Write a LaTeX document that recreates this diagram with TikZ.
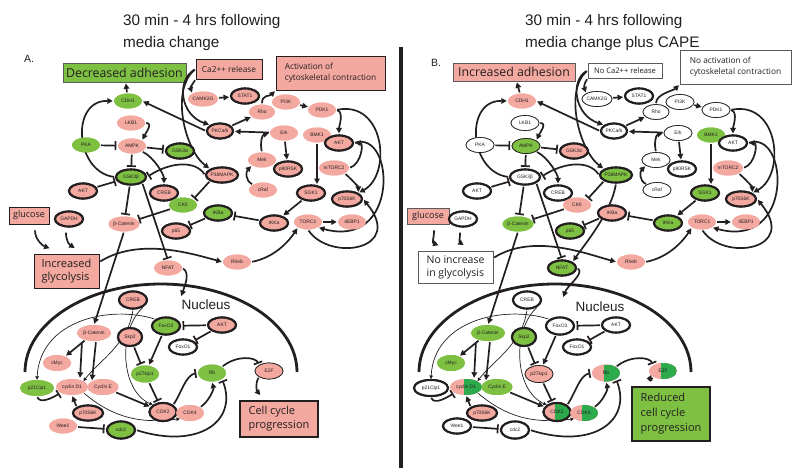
\documentclass[tikz,border=0pt]{standalone}
\usepackage{fontspec}
\setmainfont{Liberation Sans}
\newfontfamily\boxfont{Open Sans}
\usetikzlibrary{arrows.meta,calc,shapes.geometric}
\definecolor{pk}{RGB}{243,168,160}
\definecolor{gn}{RGB}{125,192,66}
\definecolor{dg}{RGB}{45,170,75}
\definecolor{bd}{RGB}{35,31,32}
\definecolor{bx}{RGB}{90,90,90}
\tikzset{
 nd/.style={ellipse, minimum width=28pt, minimum height=15pt, inner sep=0pt, font=\fontsize{4.9}{5.5}\selectfont, text=bd},
 cPK/.style={fill=pk},
 cPKT/.style={fill=pk, draw=bd, line width=2.1pt},
 cPKt/.style={fill=pk, draw=bd, line width=0.7pt},
 cGN/.style={fill=gn},
 cGNT/.style={fill=gn, draw=bd, line width=2.1pt},
 cGNt/.style={fill=gn, draw=bd, line width=0.7pt},
 cWT/.style={fill=white, draw=bd, line width=2.1pt},
 cWt/.style={fill=white, draw=bd, line width=0.7pt},
 cHF/.style={fill=pk, path picture={\fill[dg] ($(path picture bounding box.north)+(-2,0)$) rectangle (path picture bounding box.south east);}},
 cHFT/.style={cHF, draw=bd, line width=2.1pt},
 ar/.style={line width=1.7pt, draw=bd, -{Triangle[length=5.5pt,width=5.5pt]}, shorten >=1pt, shorten <=1pt},
 tar/.style={line width=0.7pt, draw=bd, -{Triangle[length=3.5pt,width=3.5pt]}, shorten <=1pt},
 inh/.style={line width=1.7pt, draw=bd, -{Bar[width=9pt]}, shorten >=1.5pt, shorten <=1pt},
 box/.style={draw=bx, line width=0.8pt, inner sep=2pt, font=\boxfont, align=left, text=bd},
 nuc/.style={line width=2.8pt, draw=bd},
 ttl/.style={font=\fontsize{15.3}{18}\selectfont, anchor=base west, inner sep=0pt, text=bd}
}
\newcommand\panelnodes{%
\node[nd,s-cdh1] (\p cdh1) at (128,101) {CDH1};
\node[nd,s-lkb1] (\p lkb1) at (131,123) {LKB1};
\node[nd,s-pka] (\p pka) at (86,145) {PKA};
\node[nd,s-ampk] (\p ampk) at (132,146) {AMPK};
\node[nd,s-gska] (\p gska) at (180,151) {GSK3α};
\node[nd,s-gskb,minimum width=30pt] (\p gskb) at (131,177) {GSK3β};
\node[nd,s-akt1] (\p akt1) at (83,191) {AKT};
\node[nd,s-creb1] (\p creb1) at (164,193) {CREB};
\node[nd,s-ckii] (\p ckii) at (183,205) {CKII};
\node[nd,s-bcat1,minimum width=31pt] (\p bcat1) at (124,224) {β-Catenin};
\node[nd,s-p65] (\p p65) at (176,231) {p65};
\node[nd,s-nfat] (\p nfat) at (168,268) {NFAT};
\node[nd,s-gapdh] (\p gapdh) at (69,219) {GAPDH};
\node[nd,s-camk,minimum width=30pt] (\p camk) at (203,99) {CAMK2G};
\node[nd,s-stat1] (\p stat1) at (245,96) {STAT1};
\node[nd,s-pkc,minimum width=26pt] (\p pkc) at (220,131) {PKCa/b};
\node[nd,s-rho,minimum width=26pt] (\p rho) at (262,112) {Rho};
\node[nd,s-pi3k] (\p pi3k) at (286,102) {PI3K};
\node[nd,s-pdk1] (\p pdk1) at (322,110) {PDK1};
\node[nd,s-erk] (\p erk) at (284,133) {Erk};
\node[nd,s-bmk1] (\p bmk1) at (317,135) {BMK1};
\node[nd,s-akt2] (\p akt2) at (339,143) {AKT};
\node[nd,s-mek] (\p mek) at (262,160) {Mek};
\node[nd,s-p90] (\p p90) at (288,169) {p90RSK};
\node[nd,s-mtorc2,minimum width=30pt] (\p mtorc2) at (334,168) {mTORC2};
\node[nd,s-p38,minimum width=30pt] (\p p38) at (222,175) {P38MAPK};
\node[nd,s-craf] (\p craf) at (263,190) {cRaf};
\node[nd,s-sgk1] (\p sgk1) at (311,193) {SGK1};
\node[nd,s-p70a,minimum width=30pt] (\p p70a) at (347,199) {p70S6K};
\node[nd,s-ikka] (\p ikka) at (274,223) {IKKa};
\node[nd,s-torc1] (\p torc1) at (308,222) {TORC1};
\node[nd,s-ebp1] (\p ebp1) at (352,222) {4EBP1};
\node[nd,s-ikba] (\p ikba) at (218,213) {IKBa};
\node[nd,s-rheb] (\p rheb) at (237,262) {Rheb};
\node[nd,s-creb2,minimum height=17pt] (\p creb2) at (133,300) {CREB};
\node[nd,s-bcat2,minimum width=34pt,minimum height=16pt] (\p bcat2) at (94,333) {β-Catenin};
\node[nd,s-skp2,minimum width=24pt,minimum height=18pt] (\p skp2) at (130,337) {Skp2};
\node[nd,s-foxo3,minimum height=17pt] (\p foxo3) at (166,326) {FoxO3};
\node[nd,s-foxo1] (\p foxo1) at (183,347) {FoxO1};
\node[nd,s-cmyc,minimum height=16pt] (\p cmyc) at (57,363) {cMyc};
\node[nd,s-p27,minimum height=17pt] (\p p27) at (145,374) {p27kip1};
\node[nd,s-p21,minimum width=34pt,minimum height=16pt] (\p p21) at (37,388) {p21Cip1};
\node[nd,s-cycd1,minimum width=32pt,minimum height=16pt] (\p cycd1) at (72,387) {cyclin D1};
\node[nd,s-cyce,minimum width=31pt,minimum height=16pt] (\p cyce) at (103,387) {Cyclin E};
\node[nd,s-cdk2,minimum width=27pt,minimum height=18pt] (\p cdk2) at (163,412) {CDK2};
\node[nd,s-cdk4,minimum height=16pt] (\p cdk4) at (190,413) {CDK4};
\node[nd,s-p70b,minimum width=30pt] (\p p70b) at (88,413) {p70S6K};
\node[nd,s-wee1] (\p wee1) at (63,426) {Wee1};
\node[nd,s-cdc2,minimum height=17pt] (\p cdc2) at (121,430) {cdc2};
\node[nd,s-akt3] (\p akt3) at (222,325) {AKT};
\node[nd,s-rb,minimum height=17pt] (\p rb) at (212,373) {Rb};
\node[nd,s-e2f,minimum height=16pt] (\p e2f) at (269,371) {E2F};
}
\newcommand\paneledges{%
\draw[nuc] (25,372) arc[start angle=180, end angle=360, x radius=136, y radius=88];
\draw[ar] (\p cdh1) -- (\p adh);
\draw[ar] (\p lkb1.east) .. controls +(8,0) and +(4,-8) .. (\p ampk.north east);
\draw[inh] (\p pka) -- (\p ampk);
\draw[inh] (\p ampk) -- (\p gska);
\draw[inh] (\p ampk) -- (\p gskb);
\draw[ar] (\p ampk.south east) .. controls +(12,6) and +(0,-10) .. (\p creb1.north);
\draw[ar] (\p gskb.west) .. controls (75,172) and (70,100) .. (\p cdh1.west);
\draw[inh] (\p akt1) -- (\p gskb);
\draw[inh] (\p p38.west) .. controls (195,160) and (170,162) .. (\p gskb.east);
\draw[ar] (\p pkc.west) -- (\p cdh1.east);
\draw[ar] (\p ca.south west) .. controls +(-4,6) and +(-2,-6) .. (\p camk.north west);
\draw[ar] (\p camk) -- (\p stat1);
\draw[ar] (\p ca.west) .. controls (176,80) and (180,115) .. (\p pkc.north west);
\draw[ar] (\p ca.west) .. controls (170,90) and (185,150) .. (\p p38.north west);
\draw[ar] (\p pkc) -- (\p rho);
\draw[ar] (\p rho.north) .. controls +(0,-10) and +(-6,6) .. (\p act.south west);
\draw[ar] (\p pi3k) -- (\p pdk1);
\draw[ar] (\p pdk1.east) .. controls +(8,2) and +(0,-8) .. (\p akt2.north);
\draw[ar] (\p erk) -- (\p pkc);
\draw[ar] (\p mek.north) .. controls +(-2,-8) and +(-8,2) .. (\p erk.west);
\draw[ar] (\p erk) -- (\p p90);
\draw[ar] (\p craf.north west) .. controls +(-8,-4) and +(-6,6) .. (\p mek.south west);
\draw[ar, shorten >=9pt] (\p bmk1) -- (\p bmk1 |- \p sgk1);
\draw[ar] (\p mtorc2.east) .. controls +(12,-4) and +(10,0) .. (\p akt2.east);
\draw[ar] (\p mtorc2.south east) .. controls +(6,5) and +(0,-6) .. (\p p70a.north east);
\draw[ar] (\p pdk1.east) .. controls (385,100) and (392,175) .. (\p p70a.north east);
\draw[ar] (\p akt2.east) .. controls (395,130) and (400,250) .. (\p torc1.south east);
\draw[ar] (\p torc1.south) .. controls (330,262) and (405,250) .. (\p p70a.east);
\draw[ar] (\p sgk1) -- (\p ikka);
\draw[inh] (\p ikka) -- (\p ikba);
\draw[inh] (\p ikba) -- (\p p65);
\draw[ar] (\p torc1) -- (\p ebp1);
\draw[ar] (\p rheb.east) .. controls +(25,-5) and +(-8,12) .. (\p torc1.south west);
\draw[ar] ($(\p gly.east)+(0,-9)$) .. controls +(40,-25) and +(-30,-8) .. (\p rheb.west);
\draw[inh] (\p gskb) -- (\p bcat1);
\draw[inh] (\p gskb.south east) -- (\p nfat.north);
\draw[inh] (\p ckii) -- (\p bcat1);
\draw[inh] (\p p38.south west) -- (\p ckii.north east);
\draw[ar] ($(\p glu.south)+(6,5)$) .. controls +(0,10) and +(-8,-3) .. ($(\p gly.north)+(-16,-5)$);
\draw[ar] ($(\p gapdh.south)+(-3,4)$) .. controls +(0,10) and +(-6,-4) .. ($(\p gly.north)+(9,-5)$);
\draw[ar] (\p bcat1.south) -- (\p bcat2.north);
\draw[ar] (\p nfat.east) .. controls +(8,5) and +(4,-12) .. (\p nfe);
\draw[tar] (\p creb2.south) .. controls +(-5,35) and +(15,-20) .. (\p cycd1.north east);
\draw[tar] (\p creb2.south east) .. controls (118,330) and (120,390) .. (\p cdk2.north west);
\draw[tar] (\p foxo3.north west) .. controls (110,305) and (40,320) .. (\p p21.north);
\draw[ar] (\p bcat2) -- (\p cmyc);
\draw[ar] ($(\p bcat2.south)+(-12,0)$) -- ($(\p cycd1.north)+(8,0)$);
\draw[ar] ($(\p bcat2.south)+(2,0)$) -- (\p cyce.north west);
\draw[inh] (\p skp2) -- (\p p27);
\draw[ar] (\p foxo3) -- (\p p27);
\draw[inh] (\p akt3) -- (\p foxo3);
\draw[inh] (\p akt3) -- (\p foxo1);
\draw[inh] (\p p27) -- (\p cdk2);
\draw[ar] (\p cyce) -- (\p cdk2);
\draw[tar] (\p cycd1.south east) .. controls +(30,25) and +(-40,5) .. (\p cdk4.south west);
\draw[inh] (\p p21.south) .. controls +(3,8) and +(-8,5) .. (\p cycd1.south west);
\draw[ar] (\p p70b.north west) -- (\p cycd1.south);
\draw[inh] (\p wee1) -- (\p cdc2);
\draw[inh] (\p cdc2.east) .. controls (200,450) and (238,420) .. (\p rb.south east);
\draw[ar] (\p cdk4.north east) .. controls +(8,-5) and +(2,8) .. (\p rb.south);
\draw[inh] (\p cdk2.north east) .. controls +(8,-12) and +(-12,2) .. (\p rb.west);
\draw[inh] (\p rb.north east) .. controls +(15,-12) and +(-3,-8) .. (\p e2f.north west);
\draw[ar] (\p e2f.south west) .. controls +(-4,8) and +(-4,-5) .. ($(\p ccp.north west)+(22,-4)$);
}
\begin{document}
\begin{tikzpicture}[x=1pt,y=-1pt]
\useasboundingbox[fill=white] (0,0) rectangle (800,475);
% titles
\node[ttl] (ta1) at (123,25) {30 min - 4 hrs following};
\node[ttl] (ta2) at (123,47) {media change};
\node[ttl] (tb1) at (525,25) {30 min - 4 hrs following};
\node[ttl] (tb2) at (525,47) {media change plus CAPE};
\node[font=\fontsize{10.5}{12}\selectfont, text=bd] (la) at (29,59) {A.};
\node[font=\fontsize{10.5}{12}\selectfont, text=bd] (lb) at (436,63) {B.};
\draw[line width=3.5pt, bd] (401,47) -- (401,468);
% ---------- panel A ----------
\begin{scope}
\def\p{a-}
\tikzset{s-cdh1/.style=cGN, s-lkb1/.style=cPK, s-pka/.style=cGN, s-ampk/.style=cPK, s-gska/.style=cGNT, s-gskb/.style=cGNT, s-akt1/.style=cPKT, s-creb1/.style=cPKT, s-ckii/.style=cGN, s-bcat1/.style=cPK, s-p65/.style=cPKT, s-nfat/.style=cPK, s-gapdh/.style=cPKT, s-camk/.style=cPK, s-stat1/.style=cPKT, s-pkc/.style=cPKT, s-rho/.style=cPK, s-pi3k/.style=cPK, s-pdk1/.style=cPK, s-erk/.style=cPK, s-bmk1/.style=cPK, s-akt2/.style=cPKT, s-mek/.style=cPK, s-p90/.style=cPKT, s-mtorc2/.style=cPK, s-p38/.style=cPKT, s-craf/.style=cPK, s-sgk1/.style=cPKT, s-p70a/.style=cPKT, s-ikka/.style=cPKT, s-torc1/.style=cPK, s-ebp1/.style=cPK, s-ikba/.style=cGNT, s-rheb/.style=cPK, s-creb2/.style=cPKT, s-bcat2/.style=cPK, s-skp2/.style=cPKT, s-foxo3/.style=cGNT, s-foxo1/.style=cWT, s-cmyc/.style=cPK, s-p27/.style=cGN, s-p21/.style=cGN, s-cycd1/.style=cPK, s-cyce/.style=cPK, s-cdk2/.style=cPKT, s-cdk4/.style=cPK, s-p70b/.style=cPKT, s-wee1/.style=cPK, s-cdc2/.style=cGNT, s-akt3/.style=cPKT, s-rb/.style=cGN, s-e2f/.style=cPKt}
\node[box, fill=gn, minimum width=123pt, minimum height=19pt, font=\boxfont\fontsize{12.3}{14}\selectfont] (a-adh) at (124.5,72.5) {Decreased adhesion};
\node[box, fill=pk, draw=bd, minimum width=66pt, minimum height=20pt, font=\boxfont\fontsize{8.3}{10}\selectfont] (a-ca) at (229,69) {Ca2++ release};
\node[box, fill=pk, draw=bd, minimum width=109pt, minimum height=34pt, font=\boxfont\fontsize{8.3}{11}\selectfont] (a-act) at (330.5,73) {Activation of\\cytoskeletal contraction};
\node[box, fill=pk, draw=bd, minimum width=40pt, minimum height=17pt, font=\boxfont\fontsize{9}{10}\selectfont] (a-glu) at (29,215.5) {glucose};
\node[box, fill=pk, draw=bd, minimum width=65pt, minimum height=34pt, font=\boxfont\fontsize{11}{13.5}\selectfont] (a-gly) at (66.5,271) {Increased\\glycolysis};
\node[box, fill=pk, draw=bd, line width=2.2pt, minimum width=78pt, minimum height=36pt, font=\boxfont\fontsize{11}{14}\selectfont] (a-ccp) at (279,419) {Cell cycle\\progression};
\coordinate (a-nfe) at (181,297);
\panelnodes
\paneledges
\panelnodes
\node[font=\fontsize{13.5}{15}\selectfont, text=bd] (a-nucl) at (206,305) {Nucleus};
\end{scope}
% ---------- panel B ----------
\begin{scope}
\def\p{b-}
\tikzset{s-cdh1/.style=cPK, s-lkb1/.style=cWt, s-pka/.style=cWt, s-ampk/.style=cGNt, s-gska/.style=cPKT, s-gskb/.style=cWT, s-akt1/.style=cWT, s-creb1/.style=cWT, s-ckii/.style=cPK, s-bcat1/.style=cGN, s-p65/.style=cGNT, s-nfat/.style=cGNT, s-gapdh/.style=cWT, s-camk/.style=cWt, s-stat1/.style=cWT, s-pkc/.style=cWT, s-rho/.style=cWt, s-pi3k/.style=cWt, s-pdk1/.style=cWt, s-erk/.style=cWt, s-bmk1/.style=cGN, s-akt2/.style=cWT, s-mek/.style=cWt, s-p90/.style=cWT, s-mtorc2/.style=cPK, s-p38/.style=cGNT, s-craf/.style=cWt, s-sgk1/.style=cGNT, s-p70a/.style=cPKT, s-ikka/.style=cGNT, s-torc1/.style=cPK, s-ebp1/.style=cPK, s-ikba/.style=cPKT, s-rheb/.style=cPK, s-creb2/.style=cWT, s-bcat2/.style=cGN, s-skp2/.style=cGNT, s-foxo3/.style=cWT, s-foxo1/.style=cWT, s-cmyc/.style=cGN, s-p27/.style=cPKt, s-p21/.style=cWT, s-cycd1/.style=cHF, s-cyce/.style=cGN, s-cdk2/.style=cHFT, s-cdk4/.style=cHF, s-p70b/.style=cPKT, s-wee1/.style=cWT, s-cdc2/.style=cWT, s-akt3/.style=cWT, s-rb/.style=cHF, s-e2f/.style=cHF}
\node[box, fill=pk, minimum width=122pt, minimum height=18pt, font=\boxfont\fontsize{12.3}{14}\selectfont] (b-adh) at (514,72) {Increased adhesion};
\node[box, fill=white, minimum width=74pt, minimum height=15pt, font=\boxfont\fontsize{7.6}{9}\selectfont] (b-ca) at (625,70.5) {No Ca2++ release};
\node[box, fill=white, minimum width=111pt, minimum height=34pt, font=\boxfont\fontsize{8.3}{11}\selectfont] (b-act) at (735.5,67) {No activation of\\cytoskeletal contraction};
\node[box, fill=pk, minimum width=42pt, minimum height=16pt, font=\boxfont\fontsize{9}{10}\selectfont] (b-glu) at (428,216) {glucose};
\node[box, fill=white, minimum width=75pt, minimum height=32pt, font=\boxfont\fontsize{10.5}{13}\selectfont] (b-gly) at (455.5,267) {No increase\\in glycolysis};
\node[box, fill=gn, draw=bd, line width=2.2pt, minimum width=78pt, minimum height=54pt, font=\boxfont\fontsize{11}{15}\selectfont] (b-ccp) at (671,414) {Reduced\\cell cycle\\progression};
\coordinate (b-nfe) at (563,298);
\begin{scope}[xshift=394pt]
\panelnodes
\paneledges
\draw[ar] (b-p38.south) .. controls +(-5,30) and +(10,-15) .. (b-nfat.north east);
\panelnodes
\node[font=\fontsize{13.5}{15}\selectfont, text=bd] (b-nucl) at (206,307) {Nucleus};
\end{scope}
\end{scope}
\end{tikzpicture}
\end{document}
